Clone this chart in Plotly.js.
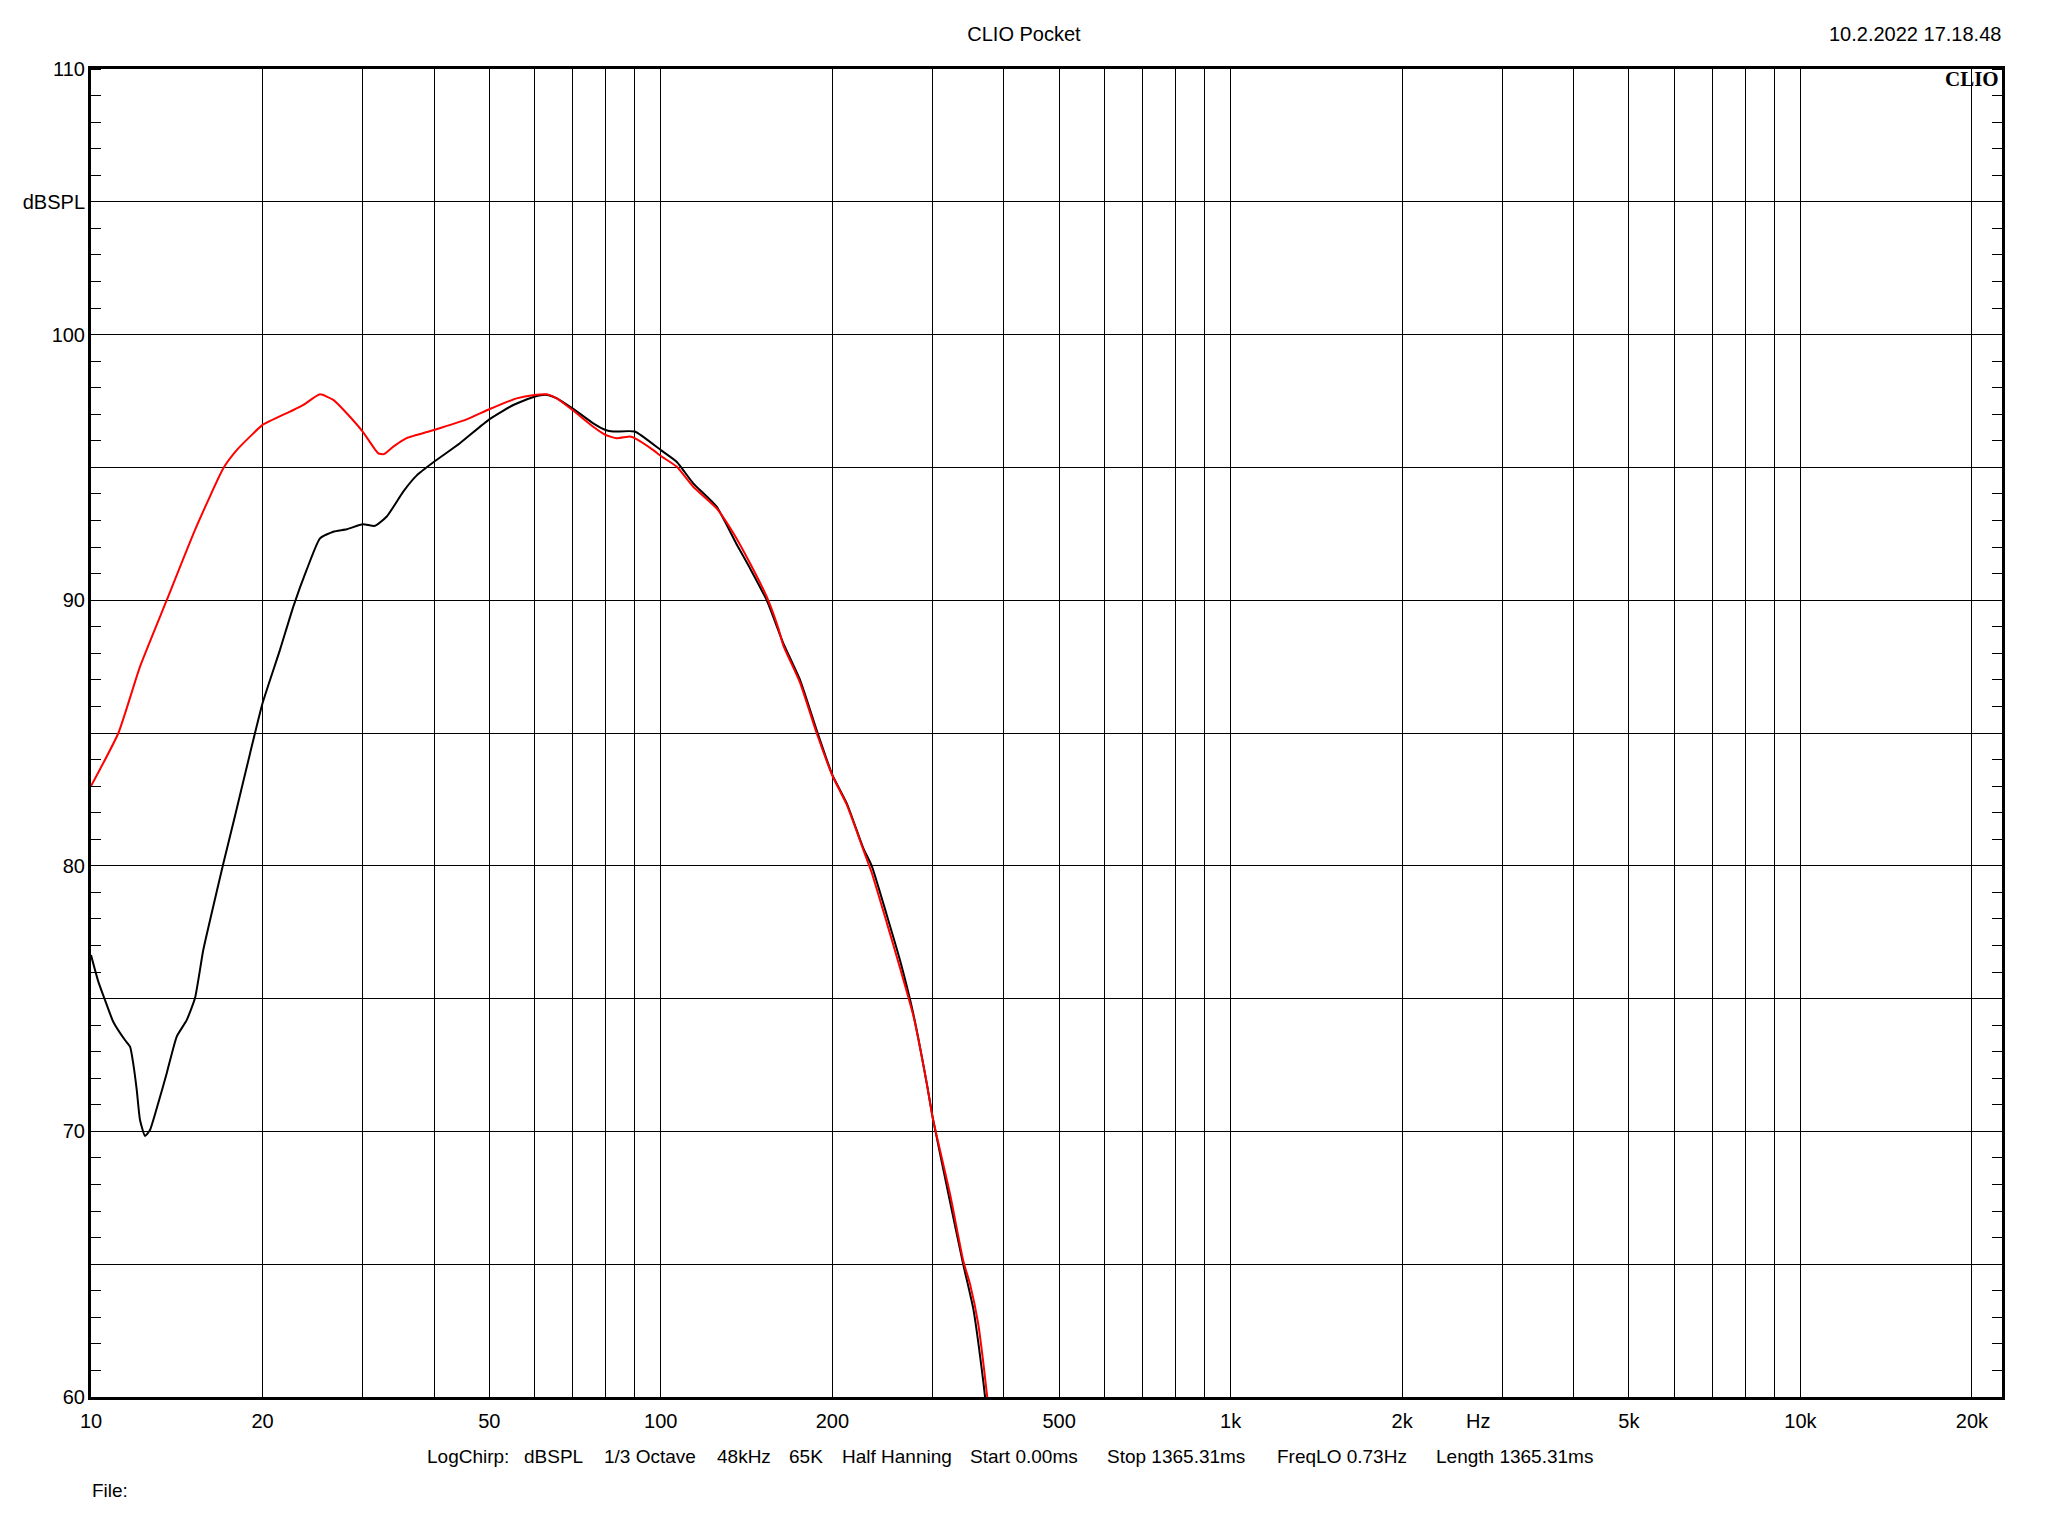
<!DOCTYPE html>
<html><head><meta charset="utf-8">
<script src="https://cdn.plot.ly/plotly-3.0.1.min.js"></script>
<style>html,body{margin:0;padding:0;background:#fff;} #chart{width:2048px;height:1536px;}</style>
</head><body><div id="chart"></div>
<script>
// ---- data ----
const blackFreq = [10,10.3,10.58,10.94,11.47,11.71,11.86,12.03,12.19,12.44,12.69,13.12,13.58,14.14,14.72,15.22,15.74,16.18,17.07,17.91,19.02,20,21.46,22.65,23.9,25.23,26.62,28.1,30,31.5,33.04,35.32,37.3,40,44.4,50,55.1,60,63,65.7,70,76.1,80,82.5,90,100,106.6,114,125.3,135.9,143.4,153.4,164,175.5,187.7,200,212,226.7,234.5,249.1,263,277.5,292.9,300,321.8,339.6,353.6,368.1,370.7];
const blackDb = [76.64,75.64,74.95,74.13,73.44,73.19,72.56,71.56,70.43,69.83,70.05,71.06,72.19,73.57,74.19,75.01,76.83,77.96,80.09,81.91,84.24,86.12,88.13,89.76,91.14,92.33,92.58,92.67,92.86,92.8,93.15,94.09,94.7,95.21,95.91,96.81,97.35,97.66,97.73,97.6,97.22,96.66,96.41,96.35,96.35,95.65,95.21,94.4,93.52,92.1,91.2,90.0,88.38,87.0,85.11,83.42,82.35,80.66,80.0,78.16,76.43,74.41,71.81,70.52,67.35,64.97,63.31,60.58,60.0];

const redFreq = [10,11.17,12.19,13.58,15.22,17.07,18.02,19.27,20,22.35,23.59,25.23,26.62,28.1,30,31.93,32.66,33.93,35.8,40,45.63,50,55.85,60,63.07,65.67,70,76.1,80,83.7,88.3,90,97,100,106.6,114,125.3,134.1,143.4,153.4,160.8,164,175.5,187.7,200,212,226.7,234.5,249.1,263,277.5,292.9,300,321.8,339.6,348.9,360.7,368.1,374];
const redDb = [83.0,85.0,87.5,90.0,92.64,94.97,95.65,96.28,96.6,97.1,97.35,97.75,97.54,97.04,96.34,95.53,95.5,95.78,96.1,96.41,96.81,97.19,97.6,97.73,97.75,97.6,97.16,96.53,96.22,96.1,96.16,96.1,95.65,95.43,95.03,94.27,93.46,92.52,91.39,90.13,88.94,88.3,86.9,85.0,83.4,82.3,80.6,79.74,77.87,76.14,74.35,71.81,70.52,67.64,65.11,64.25,62.74,61.29,60.0];

const xTickVals = [10,20,30,40,50,60,70,80,90,100,200,300,400,500,600,700,800,900,1000,2000,3000,4000,5000,6000,7000,8000,9000,10000,20000];
const xTickText = ['10','20','','','50','','','','','100','200','','','500','','','','','1k','2k','','','5k','','','','','10k','20k'];
const yTickVals = [60,65,70,75,80,85,90,95,100,105,110];
const yTickText = ['60','','70','','80','','90','','100','dBSPL','110'];

const titleText = 'CLIO Pocket';
const dateText = '10.2.2022 17.18.48';
const logoText = 'CLIO';
const unitText = 'Hz';
const fileText = 'File:';
const infoItems = ['LogChirp:','dBSPL','1/3 Octave','48kHz','65K','Half Hanning','Start 0.00ms','Stop 1365.31ms','FreqLO 0.73Hz','Length 1365.31ms'];

// ---- layout geometry (pixels) ----
const W = 2048, H = 1536;
const PL = 91, PR = 2002, PT = 69, PB = 1397;
const infoX = [426,523,603,716,788,841,969,1106,1276,1435];
const px = x => (x - PL) / (PR - PL);
const py = y => (PB - y) / (PB - PT);
const FONT = 'Liberation Sans, Arial, sans-serif';
const FS = 20;
const FS_INFO = 19;

const traces = [
  {x: blackFreq, y: blackDb, type: 'scatter', mode: 'lines', line: {color: '#000000', width: 2, shape: 'spline', smoothing: 0.5}, hoverinfo: 'skip'},
  {x: redFreq, y: redDb, type: 'scatter', mode: 'lines', line: {color: '#ff0000', width: 2, shape: 'spline', smoothing: 0.5}, hoverinfo: 'skip'}
];

const annotations = [
  {text: dateText, x: px(2002), y: py(34), xanchor: 'right', yanchor: 'middle'},
  {text: '<b>' + logoText + '</b>', x: px(2000), y: py(79), xanchor: 'right', yanchor: 'middle', font: {family: 'Liberation Serif, Times New Roman, serif', size: 21, color: '#000'}},
  {text: unitText, x: px(1478), y: py(1421), xanchor: 'center', yanchor: 'middle'},
  {text: fileText, x: px(91), y: py(1490), xanchor: 'left', yanchor: 'middle', font: {family: FONT, size: FS_INFO, color: '#000'}}
];
infoItems.forEach((t, i) => annotations.push({text: t, x: px(infoX[i]), y: py(1456), xanchor: 'left', yanchor: 'middle', font: {family: FONT, size: FS_INFO, color: '#000'}}));
annotations.forEach(a => { a.xref = 'paper'; a.yref = 'paper'; a.showarrow = false; a.borderpad = 0; if (!a.font) a.font = {family: FONT, size: FS, color: '#000'}; });

const layout = {
  width: W, height: H,
  margin: {l: PL, r: W - PR, t: PT, b: H - PB, pad: 0},
  paper_bgcolor: '#fff', plot_bgcolor: '#fff',
  showlegend: false,
  font: {family: FONT, size: FS, color: '#000'},
  title: {text: titleText, x: 0.5, xref: 'container', xanchor: 'center', y: 1 - 34 / H, yref: 'container', yanchor: 'middle', font: {family: FONT, size: FS, color: '#000'}},
  xaxis: {
    type: 'log', range: [1, Math.log10(22580)],
    tickmode: 'array', tickvals: xTickVals, ticktext: xTickText,
    showgrid: true, gridcolor: '#000', gridwidth: 1,
    showline: true, linecolor: '#000', linewidth: 3, mirror: true,
    ticks: '', zeroline: false, ticklabelstandoff: 4,
    tickfont: {family: FONT, size: FS, color: '#000'}
  },
  yaxis: {
    range: [60, 110],
    tickmode: 'array', tickvals: yTickVals, ticktext: yTickText,
    showgrid: true, gridcolor: '#000', gridwidth: 1,
    showline: true, linecolor: '#000', linewidth: 3, mirror: 'allticks',
    ticks: '', zeroline: false, ticklabelstandoff: -1,
    minor: {tickmode: 'linear', tick0: 60, dtick: 1, ticks: 'inside', ticklen: 10, tickwidth: 1, tickcolor: '#000', showgrid: false},
    tickfont: {family: FONT, size: FS, color: '#000'}
  },
  annotations: annotations
};

Plotly.newPlot('chart', traces, layout, {displayModeBar: false, staticPlot: true});
</script></body></html>
